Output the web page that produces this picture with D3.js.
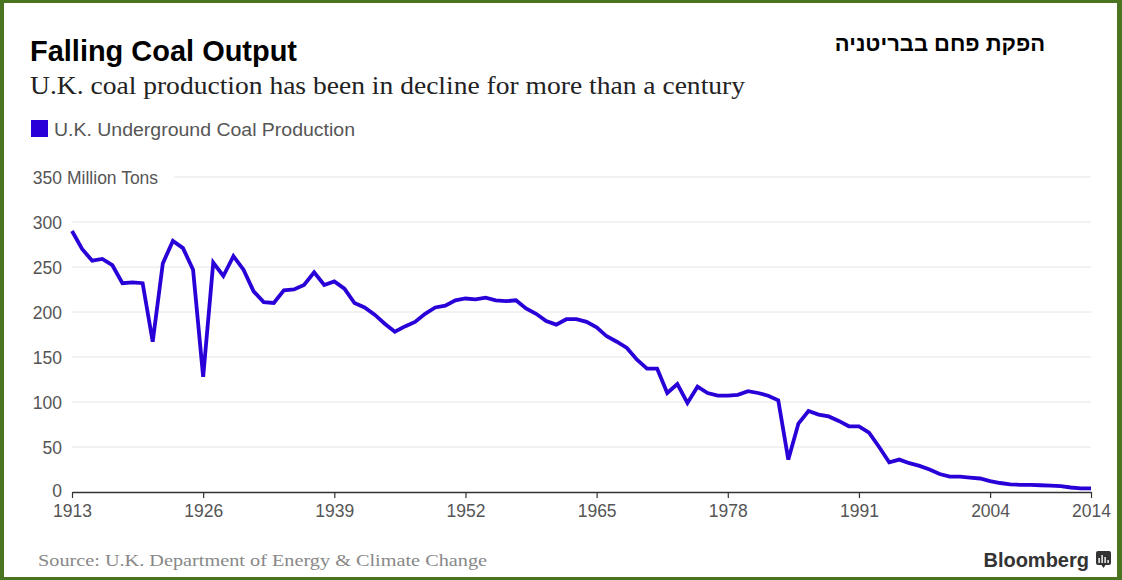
<!DOCTYPE html>
<html>
<head>
<meta charset="utf-8">
<script src="https://cdn.jsdelivr.net/npm/d3@7"></script>
<style>
  body { margin: 0; background: #fff; }
  svg { display: block; }
</style>
</head>
<body>
<div id="chart"></div>
<script>
// data
const years = d3.range(1913, 2015);
const production = [
  290, 270, 257, 259, 252, 232, 233, 232, 167, 254,
  279, 271, 247, 128, 255, 240, 262, 247, 223, 211,
  210, 224, 225, 230, 244, 230, 234, 226, 210, 205,
  197, 187, 178, 184, 189, 198, 205, 207, 213, 215,
  214, 216, 213, 212, 213, 204, 198, 190, 186, 192,
  192, 189, 183, 173, 167, 160, 147, 137, 137, 110,
  120, 99, 117, 110, 107, 107, 108, 112, 110, 107,
  102, 36, 76, 90, 86, 84, 79, 73, 73, 66,
  50, 33, 36, 32, 29, 25, 20, 17, 17, 16,
  15, 12, 10, 8.5, 8, 8, 7.5, 7, 6.5, 5,
  4, 4
];
const yTicks = [0, 50, 100, 150, 200, 250, 300, 350];
const xTicks = [1913, 1926, 1939, 1952, 1965, 1978, 1991, 2004, 2014];

const title = "Falling Coal Output";
const subtitle = "U.K. coal production has been in decline for more than a century";
const hebrewTitle = "הפקת פחם בבריטניה";
const seriesName = "U.K. Underground Coal Production";
const unitLabel = "Million Tons";
const sourceText = "Source: U.K. Department of Energy & Climate Change";

const W = 1122, H = 580;
const lineColor = "#2a00d8";
const sans = "'Liberation Sans', Arial, Helvetica, sans-serif";
const serif = "'Liberation Serif', 'DejaVu Serif', Georgia, serif";

const svg = d3.select("#chart").append("svg")
  .attr("width", W)
  .attr("height", H);

svg.append("rect").attr("width", W).attr("height", H).attr("fill", "#fff");

const x = d3.scaleLinear().domain([1913, 2014]).range([72, 1091]);
const y = d3.scaleLinear().domain([0, 350]).range([492, 177]);

// titles
svg.append("text")
  .attr("x", 30).attr("y", 61)
  .attr("font-family", sans).attr("font-weight", "bold")
  .attr("font-size", 30)
  .attr("textLength", 267).attr("lengthAdjust", "spacingAndGlyphs")
  .attr("fill", "#000")
  .text(title);

svg.append("text")
  .attr("x", 940).attr("y", 51)
  .attr("text-anchor", "middle")
  .attr("font-family", sans).attr("font-weight", "bold")
  .attr("font-size", 22)
  .attr("fill", "#000")
  .text(hebrewTitle);

svg.append("text")
  .attr("x", 30).attr("y", 94)
  .attr("font-family", serif)
  .attr("font-size", 25)
  .attr("textLength", 715).attr("lengthAdjust", "spacingAndGlyphs")
  .attr("fill", "#222")
  .text(subtitle);

// legend
svg.append("rect")
  .attr("x", 31).attr("y", 120).attr("width", 17).attr("height", 17)
  .attr("fill", lineColor);
svg.append("text")
  .attr("x", 54).attr("y", 136)
  .attr("font-family", sans).attr("font-size", 17.5)
  .attr("textLength", 301).attr("lengthAdjust", "spacingAndGlyphs")
  .attr("fill", "#555")
  .text(seriesName);

// y grid + labels
const grid = svg.append("g");
grid.selectAll("line")
  .data(yTicks.filter(d => d > 0))
  .join("line")
  .attr("x1", d => d === 350 ? 174 : 72)
  .attr("x2", 1091)
  .attr("y1", d => y(d)).attr("y2", d => y(d))
  .attr("stroke", "#e4e4e4").attr("stroke-width", 1);

grid.selectAll("text.ylab")
  .data(yTicks)
  .join("text")
  .attr("class", "ylab")
  .attr("x", 62).attr("y", d => y(d) + (d === 0 ? 5 : 7))
  .attr("text-anchor", "end")
  .attr("font-family", sans).attr("font-size", 17.5)
  .attr("fill", "#555")
  .text(d => d);

grid.append("text")
  .attr("x", 67).attr("y", y(350) + 7)
  .attr("font-family", sans).attr("font-size", 17.5)
  .attr("fill", "#555")
  .text(unitLabel);

// x axis
const xAxis = d3.axisBottom(x)
  .tickValues(xTicks)
  .tickFormat(d3.format("d"))
  .tickSize(6)
  .tickSizeOuter(0);

const gx = svg.append("g")
  .attr("transform", `translate(0,${y(0)})`)
  .call(xAxis);
gx.select(".domain").attr("stroke", "#333").attr("stroke-width", 1.5);
gx.selectAll(".tick line").attr("stroke", "#333").attr("stroke-width", 1.2);
gx.selectAll(".tick text")
  .attr("y", 13)
  .attr("font-family", sans).attr("font-size", 17.5)
  .attr("fill", "#555");

// line
const line = d3.line()
  .x((d, i) => x(years[i]))
  .y(d => y(d));

svg.append("path")
  .datum(production)
  .attr("d", line)
  .attr("fill", "none")
  .attr("stroke", lineColor)
  .attr("stroke-width", 3.8)
  .attr("stroke-linejoin", "miter")
  .attr("stroke-miterlimit", 4);

// footer
svg.append("text")
  .attr("x", 38).attr("y", 566)
  .attr("font-family", serif).attr("font-size", 17.5)
  .attr("textLength", 449).attr("lengthAdjust", "spacingAndGlyphs")
  .attr("fill", "#888")
  .text(sourceText);

svg.append("text")
  .attr("x", 1089).attr("y", 567)
  .attr("text-anchor", "end")
  .attr("font-family", sans).attr("font-weight", "bold")
  .attr("font-size", 20)
  .attr("fill", "#333")
  .text("Bloomberg");

const logo = svg.append("g").attr("transform", "translate(1096,551)");
logo.append("rect").attr("width", 15).attr("height", 14).attr("rx", 2).attr("fill", "#333");
logo.append("path").attr("d", "M5.5,14 L7.5,17 L9.5,14 Z").attr("fill", "#333");
logo.selectAll("rect.bar")
  .data([[3, 7], [6, 4], [9, 6], [12, 9]])
  .join("rect")
  .attr("class", "bar")
  .attr("x", d => d[0] - 0.6).attr("y", d => d[1])
  .attr("width", 1.4).attr("height", d => 12 - d[1])
  .attr("fill", "#fff");

// green frame
const frame = "#4a741f";
svg.append("rect").attr("x", 0).attr("y", 0).attr("width", W).attr("height", 3).attr("fill", frame);
svg.append("rect").attr("x", 0).attr("y", 577).attr("width", W).attr("height", 3).attr("fill", frame);
svg.append("rect").attr("x", 0).attr("y", 0).attr("width", 4).attr("height", H).attr("fill", frame);
svg.append("rect").attr("x", 1117).attr("y", 0).attr("width", 5).attr("height", H).attr("fill", frame);
</script>
</body>
</html>
